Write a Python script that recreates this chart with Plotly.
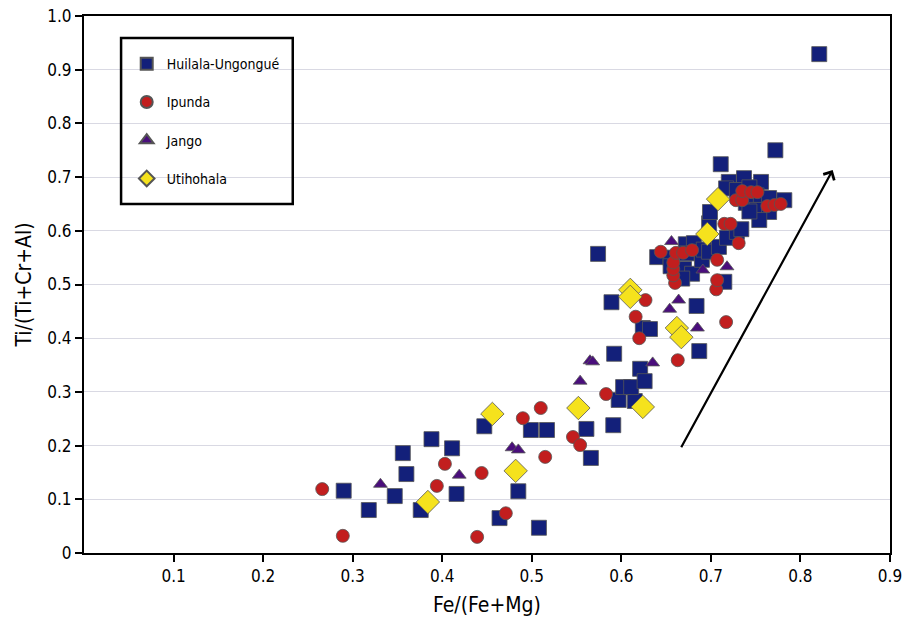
import plotly.graph_objects as go

# Huilala-Ungongué (squares)
hu_x = [0.290, 0.318, 0.347, 0.360, 0.356, 0.388, 0.376, 0.411, 0.416, 0.447, 0.464, 0.485,
        0.499, 0.517, 0.508, 0.561, 0.566, 0.591, 0.597, 0.615, 0.602, 0.611, 0.621, 0.626,
        0.592, 0.589, 0.624, 0.632, 0.574, 0.684, 0.687, 0.715, 0.640, 0.655, 0.672, 0.681,
        0.684, 0.673, 0.655, 0.670, 0.679, 0.668, 0.690, 0.692, 0.698, 0.709, 0.718, 0.729,
        0.698, 0.699, 0.711, 0.720, 0.737, 0.756, 0.717, 0.729, 0.743, 0.751, 0.765, 0.782,
        0.739, 0.751, 0.765, 0.754, 0.743, 0.734, 0.772, 0.821]
hu_y = [0.116, 0.080, 0.106, 0.147, 0.186, 0.212, 0.080, 0.195, 0.110, 0.236, 0.065, 0.115,
        0.229, 0.229, 0.047, 0.231, 0.177, 0.238, 0.285, 0.283, 0.309, 0.309, 0.343, 0.320,
        0.371, 0.467, 0.419, 0.417, 0.557, 0.460, 0.376, 0.505, 0.551, 0.550, 0.575, 0.577,
        0.560, 0.558, 0.534, 0.529, 0.520, 0.511, 0.546, 0.565, 0.561, 0.570, 0.587, 0.598,
        0.614, 0.635, 0.724, 0.691, 0.698, 0.691, 0.679, 0.676, 0.681, 0.666, 0.661, 0.657,
        0.652, 0.639, 0.635, 0.620, 0.636, 0.603, 0.750, 0.929]

# Ipunda (circles)
ip_x = [0.266, 0.289, 0.403, 0.394, 0.444, 0.439, 0.471, 0.490, 0.510, 0.515, 0.546, 0.554,
        0.583, 0.627, 0.616, 0.620, 0.663, 0.717, 0.706, 0.707, 0.707, 0.660, 0.658, 0.658,
        0.658, 0.644, 0.661, 0.669, 0.679, 0.731, 0.715, 0.722, 0.728, 0.735, 0.735, 0.745,
        0.752, 0.763, 0.771, 0.778]
ip_y = [0.119, 0.032, 0.166, 0.125, 0.149, 0.030, 0.074, 0.251, 0.270, 0.179, 0.216, 0.201,
        0.296, 0.471, 0.440, 0.400, 0.359, 0.430, 0.491, 0.508, 0.546, 0.503, 0.517, 0.529,
        0.541, 0.561, 0.559, 0.559, 0.564, 0.577, 0.613, 0.613, 0.657, 0.657, 0.674, 0.672,
        0.672, 0.646, 0.648, 0.650]

# Jango (triangles)
ja_x = [0.331, 0.419, 0.478, 0.485, 0.554, 0.565, 0.568, 0.635, 0.656, 0.654, 0.664, 0.685,
        0.691, 0.718]
ja_y = [0.128, 0.145, 0.196, 0.192, 0.320, 0.358, 0.356, 0.354, 0.580, 0.454, 0.471, 0.419,
        0.527, 0.533]

# Utihohala (diamonds)
ut_x = [0.384, 0.456, 0.482, 0.552, 0.624, 0.610, 0.610, 0.662, 0.667, 0.696, 0.708]
ut_y = [0.095, 0.259, 0.153, 0.270, 0.272, 0.490, 0.477, 0.419, 0.402, 0.594, 0.659]

x_ticks = [0.1, 0.2, 0.3, 0.4, 0.5, 0.6, 0.7, 0.8, 0.9]
x_labels = ["0.1", "0.2", "0.3", "0.4", "0.5", "0.6", "0.7", "0.8", "0.9"]
y_ticks = [0, 0.1, 0.2, 0.3, 0.4, 0.5, 0.6, 0.7, 0.8, 0.9, 1.0]
y_labels = ["0", "0.1", "0.2", "0.3", "0.4", "0.5", "0.6", "0.7", "0.8", "0.9", "1.0"]

# Trend arrow (tail, head) in data units
arrow_tail = (0.666, 0.194)
arrow_head = (0.836, 0.713)

FONT = "DejaVu Sans Condensed, Liberation Sans Narrow, Liberation Sans, sans-serif"
outline = dict(color="#555555", width=0.8)

fig = go.Figure()
fig.add_trace(go.Scatter(x=hu_x, y=hu_y, mode="markers", name="Huilala-Ungongué",
                         legendgroup="a",
                         marker=dict(symbol="square", size=15, color="#13207A", line=outline)))
fig.add_trace(go.Scatter(x=ip_x, y=ip_y, mode="markers", name="Ipunda",
                         legendgroup="b",
                         marker=dict(symbol="circle", size=13, color="#C21E1E", line=outline)))
fig.add_trace(go.Scatter(x=ja_x, y=ja_y, mode="markers", name="Jango",
                         legendgroup="c",
                         marker=dict(symbol="triangle-up", size=12, color="#4A0E7C", line=outline)))
fig.add_trace(go.Scatter(x=ut_x, y=ut_y, mode="markers", name="Utihohala",
                         legendgroup="d",
                         marker=dict(symbol="diamond", size=18, color="#F5E21D", line=outline)))

fig.add_annotation(x=arrow_head[0], y=arrow_head[1], ax=arrow_tail[0], ay=arrow_tail[1],
                   xref="x", yref="y", axref="x", ayref="y", text="", showarrow=True,
                   arrowhead=4, arrowsize=1.1, arrowwidth=2.2, arrowcolor="black")

# legend frame (decoration, paper coordinates)
fig.add_shape(type="rect", xref="paper", yref="paper", x0=0.046, x1=0.259, y0=0.650, y1=0.959,
              line=dict(color="black", width=2.5), fillcolor="rgba(0,0,0,0)", layer="above")

fig.update_layout(
    width=904, height=621,
    margin=dict(l=84, r=14, t=16, b=68, autoexpand=False),
    paper_bgcolor="white", plot_bgcolor="white",
    font=dict(family=FONT, color="black", size=17),
    showlegend=True,
    legend=dict(x=0.053, y=0.94, xanchor="left", yanchor="top",
                borderwidth=0, bgcolor="rgba(255,255,255,0)",
                font=dict(size=14, family=FONT),
                tracegroupgap=17, itemsizing="constant"),
    xaxis=dict(range=[0, 0.9], tickvals=x_ticks, ticktext=x_labels, automargin=False,
               ticklabeloverflow="allow",
               showline=True, linecolor="black", linewidth=2, mirror=True,
               ticks="outside", ticklen=7, tickwidth=2, tickcolor="black",
               showgrid=False, zeroline=False,
               title=dict(text="Fe/(Fe+Mg)", font=dict(size=21), standoff=12)),
    yaxis=dict(range=[0, 1.0], tickvals=y_ticks, ticktext=y_labels, automargin=False,
               ticklabeloverflow="allow",
               showline=True, linecolor="black", linewidth=2, mirror=True,
               ticks="outside", ticklen=7, tickwidth=2, tickcolor="black",
               showgrid=True, gridcolor="#D9D9E3", gridwidth=1, zeroline=False,
               title=dict(text="Ti/(Ti+Cr+Al)", font=dict(size=21), standoff=10)),
)

fig.write_html("out.html", config={"displayModeBar": False},
               post_script="document.body.style.margin='0';document.body.style.overflow='hidden';")
